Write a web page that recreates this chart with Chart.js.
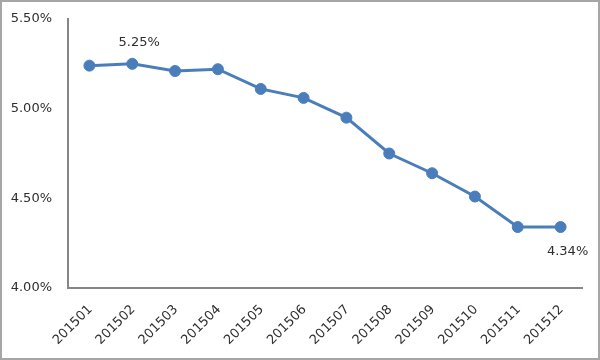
<!DOCTYPE html>
<html>
<head>
<meta charset="utf-8">
<script src="https://cdn.jsdelivr.net/npm/chart.js@4"></script>
<style>
html,body{margin:0;padding:0;background:#fff;}
#wrap{width:600px;height:360px;position:relative;}
</style>
</head>
<body>
<div id="wrap"><canvas id="c" width="600" height="360"></canvas></div>
<script>
const categories = ["201501","201502","201503","201504","201505","201506","201507","201508","201509","201510","201511","201512"];
const rates = [5.24, 5.25, 5.21, 5.22, 5.11, 5.06, 4.95, 4.75, 4.64, 4.51, 4.34, 4.34];
const yTicks = [4.00, 4.50, 5.00, 5.50];
const annotated = [{index:1, text:"5.25%", dx:7, dy:-21}, {index:11, text:"4.34%", dx:7, dy:25}];

const FONT = "'DejaVu Sans', Verdana, sans-serif";
const TEXT = "#2e2e2e";

const extras = {
  id: 'extras',
  afterDatasetsDraw(chart) {
    const ctx = chart.ctx;
    const meta = chart.getDatasetMeta(0);
    ctx.save();
    ctx.fillStyle = TEXT;
    ctx.font = "13px " + FONT;
    ctx.textAlign = "center";
    ctx.textBaseline = "middle";
    annotated.forEach(a => {
      const p = meta.data[a.index];
      ctx.fillText(a.text, p.x + a.dx, p.y + a.dy);
    });
    ctx.restore();
  },
  afterDraw(chart) {
    const ctx = chart.ctx;
    ctx.save();
    ctx.strokeStyle = "#a6a6a6";
    ctx.lineWidth = 2;
    ctx.strokeRect(1, 1, chart.width - 2, chart.height - 2);
    ctx.restore();
  }
};

new Chart(document.getElementById('c'), {
  type: 'line',
  data: {
    labels: categories,
    datasets: [{
      data: rates,
      borderColor: '#4a7ebb',
      backgroundColor: '#4a7ebb',
      borderWidth: 3,
      pointRadius: 5.5,
      pointBackgroundColor: '#4a7ebb',
      pointBorderColor: '#4a7ebb',
      pointBorderWidth: 1,
      tension: 0,
      fill: false
    }]
  },
  options: {
    responsive: false,
    animation: false,
    devicePixelRatio: 1,
    layout: { padding: { left: 0, right: 18, top: 19, bottom: 0 } },
    plugins: { legend: { display: false }, tooltip: { enabled: false } },
    scales: {
      x: {
        offset: true,
        grid: { display: false },
        border: { display: true, color: '#868686', width: 2 },
        ticks: {
          color: TEXT,
          font: { family: FONT, size: 13 },
          minRotation: 45, maxRotation: 45,
          padding: 6,
          labelOffset: 1,
          autoSkip: false
        },
        afterFit(s) { s.height = 72; }
      },
      y: {
        min: 4.0, max: 5.5,
        grid: { display: false },
        border: { display: true, color: '#868686', width: 2 },
        afterBuildTicks(s) { s.ticks = yTicks.map(v => ({ value: v })); },
        ticks: {
          color: TEXT,
          font: { family: FONT, size: 13 },
          padding: 8,
          callback: v => v.toFixed(2) + '%'
        },
        afterFit(s) { s.width = 68; }
      }
    }
  },
  plugins: [extras]
});
</script>
</body>
</html>
